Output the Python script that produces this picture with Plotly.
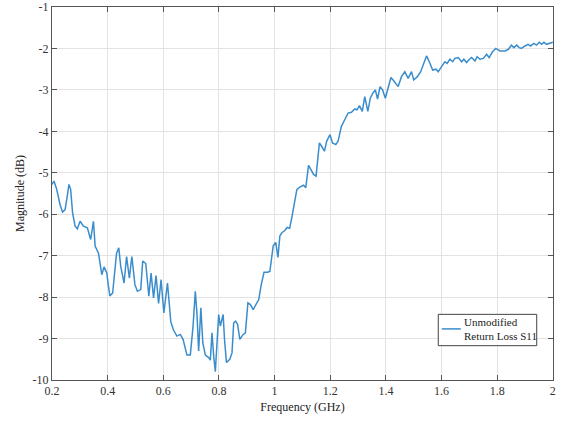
import plotly.graph_objects as go

freq_ghz = [
    0.200, 0.207, 0.217, 0.229, 0.238, 0.247, 0.253, 0.261, 0.267, 0.274,
    0.283, 0.291, 0.301, 0.313, 0.327, 0.339, 0.349, 0.355, 0.367, 0.373,
    0.379, 0.387, 0.397, 0.402, 0.408, 0.418, 0.426, 0.432, 0.440, 0.447,
    0.459, 0.468, 0.478, 0.487, 0.498, 0.507, 0.519, 0.526, 0.537, 0.548,
    0.556, 0.565, 0.574, 0.583, 0.592, 0.602, 0.615, 0.627, 0.637, 0.649,
    0.661, 0.671, 0.685, 0.697, 0.707, 0.715, 0.721, 0.727, 0.735, 0.742,
    0.751, 0.763, 0.769, 0.775, 0.781, 0.787, 0.793, 0.799, 0.805, 0.815,
    0.820, 0.827, 0.839, 0.847, 0.853, 0.860, 0.867, 0.875, 0.887, 0.895,
    0.904, 0.913, 0.923, 0.935, 0.943, 0.952, 0.962, 0.974, 0.983, 0.995,
    1.004, 1.012, 1.019, 1.027, 1.036, 1.045, 1.054, 1.063, 1.069, 1.080,
    1.092, 1.104, 1.112, 1.122, 1.130, 1.140, 1.149, 1.161, 1.169, 1.179,
    1.187, 1.199, 1.208, 1.220, 1.228, 1.240, 1.252, 1.264, 1.276, 1.288,
    1.296, 1.305, 1.315, 1.324, 1.335, 1.344, 1.353, 1.362, 1.370, 1.379,
    1.388, 1.398, 1.410, 1.418, 1.428, 1.444, 1.456, 1.468, 1.480, 1.492,
    1.500, 1.513, 1.525, 1.537, 1.546, 1.556, 1.568, 1.580, 1.588, 1.600,
    1.612, 1.620, 1.630, 1.640, 1.648, 1.660, 1.672, 1.680, 1.690, 1.700,
    1.708, 1.720, 1.728, 1.738, 1.750, 1.762, 1.771, 1.783, 1.795, 1.810,
    1.828, 1.840, 1.851, 1.860, 1.870, 1.879, 1.887, 1.900, 1.911, 1.920,
    1.932, 1.941, 1.951, 1.960, 1.968, 1.977, 1.990, 2.000,
]

s11_db = [
    -5.28, -5.20, -5.40, -5.77, -5.95, -5.89, -5.65, -5.28, -5.40, -5.97,
    -6.29, -6.35, -6.17, -6.29, -6.33, -6.61, -6.17, -6.77, -6.94, -7.26,
    -7.46, -7.27, -7.42, -7.70, -7.97, -7.90, -7.34, -6.94, -6.81, -7.26,
    -7.66, -7.02, -7.54, -7.02, -7.70, -7.86, -7.82, -7.13, -7.19, -7.98,
    -7.42, -8.02, -7.48, -8.15, -7.58, -8.38, -7.66, -8.60, -8.80, -8.94,
    -8.90, -9.02, -9.40, -9.40, -8.70, -7.86, -8.40, -9.30, -8.26, -9.10,
    -9.40, -9.46, -9.52, -8.86, -9.42, -9.80, -9.10, -8.42, -8.70, -8.42,
    -9.02, -9.58, -9.50, -9.34, -8.62, -8.58, -8.66, -9.02, -8.90, -8.86,
    -8.14, -8.18, -8.30, -8.14, -8.06, -7.70, -7.40, -7.40, -7.38, -6.76,
    -6.68, -7.04, -6.52, -6.44, -6.40, -6.32, -6.34, -6.04, -5.80, -5.40,
    -5.34, -5.30, -5.36, -4.82, -4.92, -5.04, -5.08, -4.28, -4.36, -4.48,
    -4.24, -4.08, -4.28, -4.32, -4.24, -3.88, -3.72, -3.56, -3.54, -3.46,
    -3.48, -3.38, -3.52, -3.16, -3.52, -3.20, -3.08, -3.00, -3.22, -2.92,
    -3.00, -3.20, -2.90, -2.70, -2.78, -2.92, -2.68, -2.56, -2.72, -2.56,
    -2.76, -2.68, -2.56, -2.32, -2.18, -2.32, -2.52, -2.50, -2.56, -2.44,
    -2.32, -2.36, -2.26, -2.32, -2.24, -2.22, -2.32, -2.26, -2.34, -2.26,
    -2.22, -2.30, -2.20, -2.26, -2.24, -2.14, -2.22, -2.08, -2.00, -2.06,
    -2.06, -2.02, -1.92, -1.98, -1.92, -1.98, -2.00, -1.94, -1.90, -1.94,
    -1.88, -1.92, -1.85, -1.90, -1.85, -1.90, -1.88, -1.85,
]

x_ticks = [0.2, 0.4, 0.6, 0.8, 1.0, 1.2, 1.4, 1.6, 1.8, 2.0]
x_tick_labels = ["0.2", "0.4", "0.6", "0.8", "1", "1.2", "1.4", "1.6", "1.8", "2"]
y_ticks = [-1, -2, -3, -4, -5, -6, -7, -8, -9, -10]
y_tick_labels = ["-1", "-2", "-3", "-4", "-5", "-6", "-7", "-8", "-9", "-10"]

legend_lines = ["Unmodified", "Return Loss S11"]
line_color = "#3a8dcd"
serif = "Liberation Serif, Times New Roman, serif"

fig = go.Figure()
fig.add_trace(go.Scatter(
    x=freq_ghz, y=s11_db, mode="lines",
    line=dict(color=line_color, width=1.5),
    name="<br>".join(legend_lines), showlegend=False,
))

axis_common = dict(
    showline=True, linecolor="#555555", linewidth=1, mirror="allticks",
    ticks="inside", ticklen=5, tickcolor="#555555",
    showgrid=True, gridcolor="#e3e3e3", gridwidth=1, zeroline=False,
    tickfont=dict(family=serif, size=12, color="#333333"),
    automargin=False, ticklabeloverflow="allow",
)

fig.update_xaxes(
    range=[0.2, 2.0005], tickvals=x_ticks, ticktext=x_tick_labels,
    title=dict(text="Frequency (GHz)", font=dict(family=serif, size=12, color="#222222"), standoff=5),
    **axis_common,
)
fig.update_yaxes(
    range=[-10.0005, -0.9995], tickvals=y_ticks, ticktext=y_tick_labels,
    title=dict(text="Magnitude (dB)", font=dict(family=serif, size=12, color="#222222"), standoff=5),
    **axis_common,
)

# legend box drawn in paper coordinates
fig.add_shape(type="rect", xref="paper", yref="paper",
              x0=0.771, x1=0.9675, y0=0.092, y1=0.176,
              line=dict(color="#444444", width=1), fillcolor="white", layer="above")
fig.add_shape(type="line", xref="paper", yref="paper",
              x0=0.778, x1=0.816, y0=0.137, y1=0.137,
              line=dict(color=line_color, width=1.5), layer="above")
fig.add_annotation(xref="paper", yref="paper", x=0.818, y=0.137,
                   xanchor="left", yanchor="middle", align="left", showarrow=False,
                   text="<br>".join(legend_lines),
                   font=dict(family=serif, size=11, color="#222222"))

fig.update_layout(
    width=561, height=421,
    margin=dict(l=52, r=8, t=7, b=41),
    paper_bgcolor="white", plot_bgcolor="white",
    showlegend=False,
)

# remove the browser's default 8px body margin so the figure fills the window
fig.write_html(
    "out.html",
    config={"displayModeBar": False},
    post_script="document.body.style.margin='0';document.body.style.overflow='hidden';",
)
